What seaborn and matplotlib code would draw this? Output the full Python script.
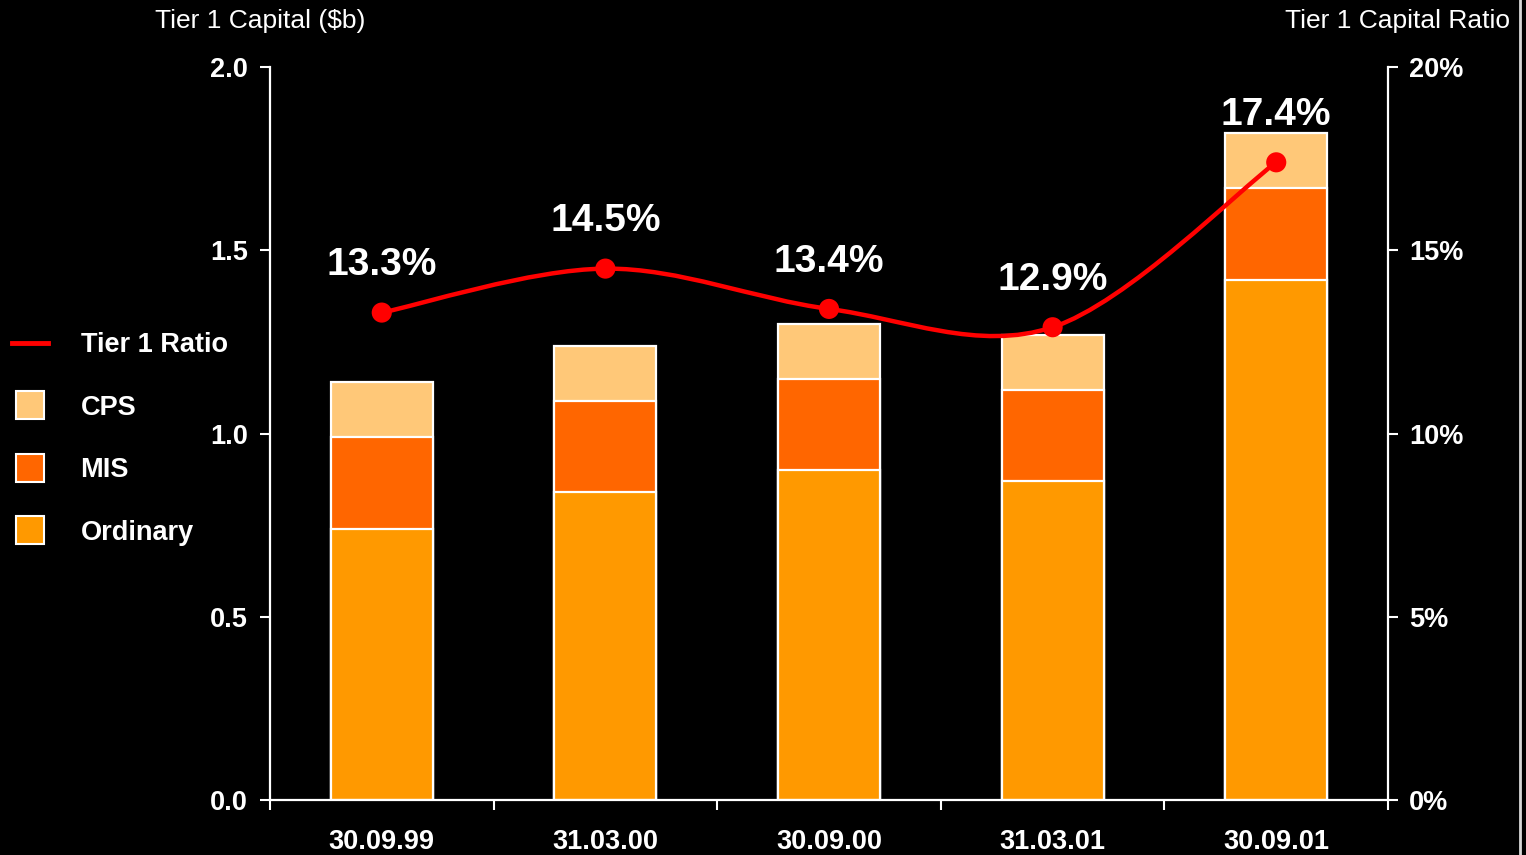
import numpy as np
import pandas as pd
import matplotlib
matplotlib.use("Agg")
import matplotlib.pyplot as plt
from matplotlib.path import Path
from matplotlib.patches import PathPatch
from matplotlib.lines import Line2D
import seaborn as sns

# Tier 1 capital composition ($b) and Tier 1 ratio (%) by reporting date
periods = ["30.09.99", "31.03.00", "30.09.00", "31.03.01", "30.09.01"]
ordinary = [0.74, 0.84, 0.90, 0.87, 1.42]
mis = [0.25, 0.25, 0.25, 0.25, 0.25]
cps = [0.15, 0.15, 0.15, 0.15, 0.15]
tier1_ratio = [13.3, 14.5, 13.4, 12.9, 17.4]
capital_ticks = [0.0, 0.5, 1.0, 1.5, 2.0]
ratio_ticks = [0, 5, 10, 15, 20]

C_ORD = "#FF9900"
C_MIS = "#FF6600"
C_CPS = "#FFC878"
C_LINE = "#FF0000"
FS = 19.5

plt.rcParams["font.family"] = ["Liberation Sans", "DejaVu Sans"]
plt.rcParams["text.color"] = "white"

df = pd.DataFrame({"period": periods, "ordinary": ordinary, "mis": mis, "cps": cps})
df["lvl_mis"] = df["ordinary"] + df["mis"]
df["lvl_cps"] = df["lvl_mis"] + df["cps"]

fig = plt.figure(figsize=(15.26, 8.55), dpi=100, facecolor="black")
ax = fig.add_axes([0.1769, 0.0643, 0.7327, 0.8573])
ax.set_facecolor("black")

# stacked bars drawn as overlapping cumulative totals
for col, colr in [("lvl_cps", C_CPS), ("lvl_mis", C_MIS), ("ordinary", C_ORD)]:
    sns.barplot(data=df, x="period", y=col, color=colr, width=0.456,
                edgecolor="white", linewidth=1.6, ax=ax, order=periods,
                saturation=1)

ax.set_xlim(-0.5, 4.5)
ax.set_ylim(0, 2.0)
ax.set_xlabel("")
ax.set_ylabel("")
ax.set_yticks(capital_ticks)
ax.set_yticklabels([f"{t:.1f}" for t in capital_ticks])
ax.set_xticks(range(len(periods)))
ax.set_xticklabels(periods)
ax.set_xticks(np.arange(-0.5, len(periods), 1.0), minor=True)
ax.tick_params(axis="x", which="major", length=0, pad=21, labelsize=FS,
               labelcolor="white")
ax.tick_params(axis="x", which="minor", length=7, width=1.5, color="white",
               direction="out")
ax.tick_params(axis="y", length=7, width=1.5, color="white", pad=9,
               labelsize=FS, labelcolor="white")
for lab in ax.get_xticklabels() + ax.get_yticklabels():
    lab.set_fontweight("bold")
for s in ["top", "right"]:
    ax.spines[s].set_visible(False)
for s in ["left", "bottom"]:
    ax.spines[s].set_color("white")
    ax.spines[s].set_linewidth(1.6)

# ratio on the secondary axis
ax2 = ax.twinx()
ax2.set_ylim(0, 20)
xs = np.arange(len(tier1_ratio), dtype=float)
pts = np.column_stack([xs, tier1_ratio])
verts = [pts[0]]
codes = [Path.MOVETO]
n = len(pts)
for i in range(n - 1):
    p0 = pts[max(i - 1, 0)]
    p1 = pts[i]
    p2 = pts[i + 1]
    p3 = pts[min(i + 2, n - 1)]
    verts += [p1 + (p2 - p0) / 6.0, p2 - (p3 - p1) / 6.0, p2]
    codes += [Path.CURVE4] * 3
ax2.add_patch(PathPatch(Path(verts, codes), facecolor="none", edgecolor=C_LINE,
                        linewidth=3.2, capstyle="round", zorder=3))
sns.scatterplot(x=xs, y=tier1_ratio, ax=ax2, s=210, color=C_LINE,
                edgecolor="none", zorder=4, legend=False)
for x, v in zip(xs, tier1_ratio):
    ax2.annotate(f"{v:.1f}%", (x, v), xytext=(0, 34), textcoords="offset points",
                 ha="center", va="center", fontsize=28, fontweight="bold",
                 color="white")
ax2.set_xlim(-0.5, 4.5)
ax2.set_ylim(0, 20)
ax2.set_yticks(ratio_ticks)
ax2.set_yticklabels([f"{t}%" for t in ratio_ticks])
ax2.tick_params(axis="y", length=7, width=1.5, color="white", pad=8,
                labelsize=FS, labelcolor="white")
for lab in ax2.get_yticklabels():
    lab.set_fontweight("bold")
ax2.set_ylabel("")
ax2.set_xlabel("")
for s in ["top", "left", "bottom"]:
    ax2.spines[s].set_visible(False)
ax2.spines["right"].set_color("white")
ax2.spines["right"].set_linewidth(1.6)

# axis titles
fig.text(260 / 1526, 1 - 21 / 855, "Tier 1 Capital ($b)", ha="center", va="center",
         fontsize=19, color="white")
fig.text(1510 / 1526, 1 - 21 / 855, "Tier 1 Capital Ratio", ha="right", va="center",
         fontsize=19, color="white")

# legend
handles = [
    Line2D([], [], color=C_LINE, linewidth=3.5),
    Line2D([], [], linestyle="none", marker="s", markersize=20,
           markerfacecolor=C_CPS, markeredgecolor="white", markeredgewidth=1.5),
    Line2D([], [], linestyle="none", marker="s", markersize=20,
           markerfacecolor=C_MIS, markeredgecolor="white", markeredgewidth=1.5),
    Line2D([], [], linestyle="none", marker="s", markersize=20,
           markerfacecolor=C_ORD, markeredgecolor="white", markeredgewidth=1.5),
]
leg = fig.legend(handles, ["Tier 1 Ratio", "CPS", "MIS", "Ordinary"],
                 loc="upper left", bbox_to_anchor=(12 / 1526, 1 - 332 / 855),
                 frameon=False, borderpad=0, borderaxespad=0,
                 handlelength=1.33, handletextpad=1.2, labelspacing=1.35,
                 prop={"size": FS, "weight": "bold"})
for t in leg.get_texts():
    t.set_color("white")

# frame edge on the right
fig.add_artist(Line2D([1520 / 1526, 1520 / 1526], [0, 1], transform=fig.transFigure,
                      color="#d8d8d8", linewidth=2))

fig.savefig("out.png", dpi=100, facecolor="black")
